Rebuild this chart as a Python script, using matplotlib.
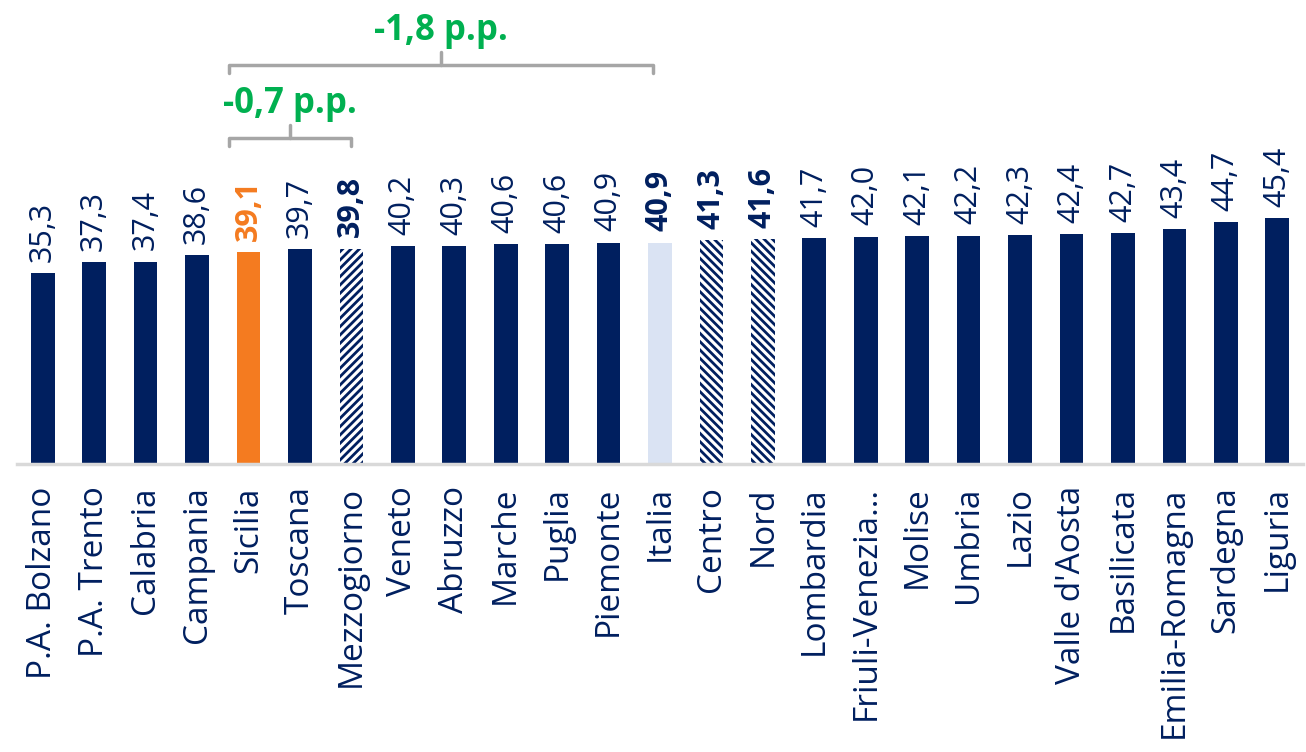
import matplotlib
matplotlib.use("Agg")
import matplotlib.pyplot as plt

plt.rcParams['font.family'] = ['Open Sans', 'DejaVu Sans']
plt.rcParams['hatch.linewidth'] = 2.0

regions = ['P.A. Bolzano', 'P.A. Trento', 'Calabria', 'Campania', 'Sicilia',
           'Toscana', 'Mezzogiorno', 'Veneto', 'Abruzzo', 'Marche', 'Puglia',
           'Piemonte', 'Italia', 'Centro', 'Nord', 'Lombardia',
           'Friuli-Venezia…', 'Molise', 'Umbria', 'Lazio', "Valle d'Aosta",
           'Basilicata', 'Emilia-Romagna', 'Sardegna', 'Liguria']
values = [35.3, 37.3, 37.4, 38.6, 39.1, 39.7, 39.8, 40.2, 40.3, 40.6, 40.6,
          40.9, 40.9, 41.3, 41.6, 41.7, 42.0, 42.1, 42.2, 42.3, 42.4, 42.7,
          43.4, 44.7, 45.4]
highlight = 'Sicilia'
macro_areas = ['Mezzogiorno', 'Centro', 'Nord']
national = 'Italia'
gap_small = '-0,7 p.p.'
gap_large = '-1,8 p.p.'

navy = '#001f5f'
orange = '#f47b20'
light = '#dae3f3'
green = '#00b050'
grey = '#a6a6a6'

fig = plt.figure(figsize=(13.06, 7.52), dpi=100)
ax = fig.add_axes([17 / 1306, 288 / 752, 1286 / 1306, 464 / 752])

x = range(len(regions))
for i, (name, v) in enumerate(zip(regions, values)):
    if name == highlight:
        ax.bar(i, v, 0.46, color=orange, zorder=2)
        col, wt = orange, 'bold'
    elif name == national:
        ax.bar(i, v, 0.46, color=light, zorder=2)
        col, wt = navy, 'bold'
    elif name in macro_areas:
        h = '////' if name == 'Mezzogiorno' else '\\\\\\\\'
        ax.bar(i, v, 0.46, color='white', edgecolor=navy, hatch=h,
               linewidth=0, zorder=2)
        col, wt = navy, 'bold'
    else:
        ax.bar(i, v, 0.46, color=navy, zorder=2)
        col, wt = navy, 'normal'
    ax.annotate(f'{v:.1f}'.replace('.', ','), (i, v), xytext=(0, 8),
                textcoords='offset points', rotation=90, ha='center',
                va='bottom', fontsize=22, color=col, fontweight=wt)

ax.set_xlim(-0.5, len(regions) - 0.5)
ax.set_ylim(0, 85.7)
ax.set_xticks(list(x))
ax.set_xticklabels(regions, rotation=90, fontsize=24, color=navy)
ax.tick_params(axis='x', length=0, pad=16)
ax.set_yticks([])
for s in ['top', 'right', 'left']:
    ax.spines[s].set_visible(False)
ax.spines['bottom'].set_color('#d9d9d9')
ax.spines['bottom'].set_linewidth(2.5)


def bracket(x0, x1, y, txt):
    d = 1.5
    ax.plot([x0, x0, x1, x1], [y - d, y, y, y - d], color=grey, lw=2.5,
            clip_on=False, solid_capstyle='round', solid_joinstyle='round')
    xm = (x0 + x1) / 2
    ax.plot([xm, xm], [y, y + d * 1.6], color=grey, lw=2.5, clip_on=False,
            solid_capstyle='round')
    ax.text(xm, y + 3.0, txt, ha='center', va='bottom', fontsize=25,
            color=green, fontweight='bold')


bracket(3.62, 6.0, 60.2, gap_small)
bracket(3.62, 11.86, 73.7, gap_large)

fig.savefig('out.png', dpi=100)
